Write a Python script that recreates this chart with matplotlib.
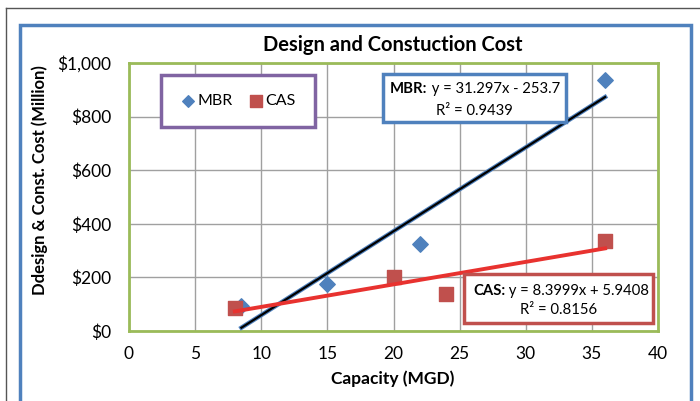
import numpy as np
import matplotlib
matplotlib.use('Agg')
import matplotlib.pyplot as plt
from matplotlib.patches import Rectangle
from matplotlib.text import Annotation

# данные
mbr_capacity = [8.5, 15, 22, 36]
mbr_cost = [95, 175, 325, 935]
cas_capacity = [8, 20, 24, 36]
cas_cost = [85, 200, 138, 335]

# коэффициенты линий тренда (из подписей)
mbr_slope, mbr_icpt, mbr_r2 = 31.297, -253.7, 0.9439
cas_slope, cas_icpt, cas_r2 = 8.3999, 5.9408, 0.8156

x_ticks = [0, 5, 10, 15, 20, 25, 30, 35, 40]
y_ticks = [0, 200, 400, 600, 800, 1000]

blue = '#4F81BD'
red = '#C0504D'
green = '#9BBB59'
purple = '#8064A2'

plt.rcParams['font.family'] = ['Lato', 'DejaVu Sans']

W, H = 700, 401
fig = plt.figure(figsize=(W / 100, H / 100), dpi=100)


def fx(px):
    return px / W


def fy(py):
    return 1 - py / H


# рамки вокруг диаграммы
fig.add_artist(plt.Line2D([fx(6), 1], [fy(8), fy(8)], color='#555555', lw=1))
fig.add_artist(plt.Line2D([fx(6), fx(6)], [0, fy(8)], color='#555555', lw=1))
fig.add_artist(Rectangle((fx(20), -0.05), fx(691) - fx(20), fy(25) + 0.05,
                         fill=False, ec=blue, lw=2.5, transform=fig.transFigure))

ax = fig.add_axes([fx(129), fy(331), fx(658) - fx(129), fy(63) - fy(331)])
ax.set_xlim(0, 40)
ax.set_ylim(0, 1000)
ax.set_xticks(x_ticks)
ax.set_yticks(y_ticks)
ax.set_yticklabels(['$0'] + [f'${v:,}' for v in y_ticks[1:]])
ax.tick_params(length=0, labelsize=12.5)
ax.tick_params(axis='y', pad=13)
ax.tick_params(axis='x', pad=11)
ax.grid(True, color='#A0A0A0', lw=1)
ax.set_axisbelow(True)
for s in ax.spines.values():
    s.set_color(green)
    s.set_linewidth(2)

ax.scatter(mbr_capacity, mbr_cost, marker='D', s=62, color=blue, zorder=3, label='MBR')
ax.scatter(cas_capacity, cas_cost, marker='s', s=115, color=red, zorder=3, label='CAS')

xm = np.array([min(mbr_capacity), max(mbr_capacity)])
ax.plot(xm, mbr_slope * xm + mbr_icpt, color=blue, lw=3.2, zorder=4)
ax.plot(xm, mbr_slope * xm + mbr_icpt, color='black', lw=1.6, zorder=4)
xc = np.array([min(cas_capacity), max(cas_capacity)])
ax.plot(xc, cas_slope * xc + cas_icpt, color='#E8322F', lw=2.8, zorder=4)

fig.text(fx(393), fy(45), 'Design and Constuction Cost', fontsize=14.5,
         fontweight='bold', ha='center', va='center')
fig.text(fx(393), fy(379), 'Capacity (MGD)', fontsize=12.5,
         fontweight='bold', ha='center', va='center')
fig.text(fx(40), fy(180), 'Ddesign & Const. Cost (Million)', fontsize=12,
         fontweight='bold', ha='center', va='center', rotation=90)

leg = ax.legend(loc='center', bbox_to_anchor=(fx(238), fy(101)),
                bbox_transform=fig.transFigure,
                ncol=2, fontsize=11.5, frameon=True, fancybox=False, borderpad=1.2,
                handletextpad=0.05, columnspacing=1.0, handlelength=1.0,
                markerscale=0.75, framealpha=1)
leg.get_frame().set_edgecolor(purple)
leg.get_frame().set_linewidth(2.5)

fs_eq = 10.7


def eq_box(x0, y0, x1, y1, color, name, eq, r2, left_px, base1, base2):
    fig.add_artist(Rectangle((fx(x0), fy(y1)), fx(x1) - fx(x0), fy(y0) - fy(y1),
                             fc='white', ec=color, lw=2.5, transform=fig.transFigure,
                             zorder=5))
    t = fig.text(fx(left_px), fy(base1), name + ':', fontsize=fs_eq, fontweight='bold',
                 ha='left', va='baseline', zorder=6)
    rest = Annotation(' ' + eq, xy=(1, 0), xycoords=t, va='bottom', ha='left',
                      fontsize=fs_eq, annotation_clip=False, zorder=6)
    fig.add_artist(rest)
    fig.text(fx((x0 + x1) / 2), fy(base2), 'R² = ' + f'{r2}', fontsize=fs_eq,
             ha='center', va='baseline', zorder=6)


eq_box(383, 74, 566, 122, blue, 'MBR', f'y = {mbr_slope}x - {abs(mbr_icpt)}', mbr_r2,
       390, 93, 115)
eq_box(464, 274, 653, 323, red, 'CAS', f'y = {cas_slope}x + {cas_icpt}', cas_r2,
       473, 295, 314)

fig.savefig('out.png', dpi=100)
